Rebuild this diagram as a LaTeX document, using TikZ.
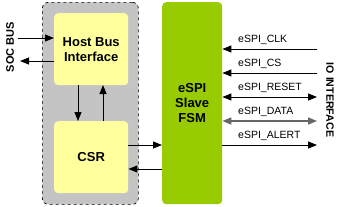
\documentclass[tikz,border=0pt]{standalone}
\usepackage{fontspec}
\setmainfont{Liberation Sans}
\usetikzlibrary{arrows.meta}
\definecolor{grayfill}{HTML}{C4C4C4}
\definecolor{yel}{HTML}{FFFF9E}
\definecolor{grn}{HTML}{99CC00}
\tikzset{
  blk/.style={draw=none, fill=yel, rounded corners=4pt, font=\fontsize{13}{15}\selectfont\bfseries, align=center, inner sep=0pt},
  arr/.style={-{Triangle[length=9pt,width=7pt]}, line width=0.9pt},
  darr/.style={{Triangle[length=9pt,width=7pt]}-{Triangle[length=9pt,width=7pt]}, line width=0.9pt},
  sig/.style={font=\fontsize{10.5}{12}\selectfont, anchor=south west, inner sep=1pt},
}
\begin{document}
\begin{tikzpicture}[x=1pt,y=-1pt]
\useasboundingbox (0,0) rectangle (339,206);
% gray dashed box
\node[draw, dashed, fill=grayfill, rounded corners=6pt, minimum width=96pt, minimum height=202pt, inner sep=0pt, anchor=north west, line width=0.7pt] (sub) at (42,2) {};
\node[blk, minimum width=74pt, minimum height=72pt, anchor=north west] (hbi) at (54,13) {Host Bus\\Interface};
\node[blk, minimum width=74pt, minimum height=72pt, anchor=north west] (csr) at (54,121) {CSR};
\node[blk, fill=grn, minimum width=60pt, minimum height=202pt, anchor=north west] (fsm) at (162,2) {eSPI\\Slave\\FSM};
% SOC bus
\coordinate (sin) at (18,38);
\coordinate (sout) at (20,61);
\draw[arr] (sin) -- (hbi.west |- sin);
\draw[arr] (hbi.west |- sout) -- (sout);
\node[rotate=90, font=\fontsize{11}{12}\selectfont\bfseries] (soc) at (10,47) {SOC BUS};
% HBI <-> CSR
\draw[arr] (78,85) -- (78,121);
\draw[arr] (103,121) -- (103,85);
% CSR <-> FSM
\draw[arr] (csr.east |- 0,145) -- (fsm.west |- 0,145);
\draw[arr] (fsm.west |- 0,169) -- (csr.east |- 0,169);
% IO signals
\coordinate (c1) at (317,49);
\coordinate (c2) at (317,73);
\coordinate (c3) at (317,97);
\coordinate (c4) at (317,121);
\coordinate (c5) at (317,145);
\draw[arr] (c1) -- (fsm.east |- c1);
\draw[arr] (c2) -- (fsm.east |- c2);
\draw[darr] (fsm.east |- c3) -- (c3);
\draw[darr, draw=black!60, line width=1.6pt] (fsm.east |- c4) -- (c4);
\node[sig] (l1) at (237,46) {eSPI\_CLK};
\node[sig] (l2) at (237,70) {eSPI\_CS};
\node[sig] (l3) at (237,94) {eSPI\_RESET};
\node[sig] (l4) at (237,118) {eSPI\_DATA};
\node[sig] (l5) at (237,142) {eSPI\_ALERT};
\draw[arr] (fsm.east |- c5) -- (c5);
\node[rotate=-90, font=\fontsize{10.6}{12}\selectfont\bfseries] (io) at (330,100) {IO INTERFACE};
\end{tikzpicture}
\end{document}
